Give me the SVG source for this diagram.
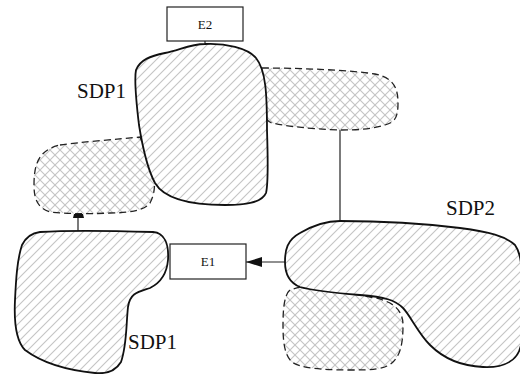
<svg xmlns="http://www.w3.org/2000/svg" width="520" height="374" viewBox="0 0 520 374">
<style>
.solid{fill:url(#hatch);stroke:#111;stroke-width:1.8}
.dash{fill:url(#cross);stroke:#222;stroke-width:1.3;stroke-dasharray:7 4}
.box{fill:#fff;stroke:#222;stroke-width:1.2}
.lbl{font-family:"Liberation Serif","Times New Roman",serif;fill:#111}
.conn{stroke:#222;stroke-width:1.2;fill:none}
.h{stroke:#c4c4c4;stroke-width:1.1}
</style>
<defs>
<pattern id="hatch" patternUnits="userSpaceOnUse" width="9" height="9">
<rect width="9" height="9" fill="#fff"/>
<line class="h" x1="-1" y1="10" x2="10" y2="-1"/>
<line class="h" x1="-1" y1="1" x2="1" y2="-1"/>
<line class="h" x1="8" y1="10" x2="10" y2="8"/>
</pattern>
<pattern id="cross" patternUnits="userSpaceOnUse" width="10" height="10">
<rect width="10" height="10" fill="#fff"/>
<line class="h" x1="-1" y1="11" x2="11" y2="-1"/>
<line class="h" x1="-1" y1="-1" x2="11" y2="11"/>
</pattern>
<marker id="arr" markerWidth="16" markerHeight="10" refX="16" refY="5" orient="auto" markerUnits="userSpaceOnUse">
<path d="M0,0 L16,5 L0,10 Z" fill="#111"/>
</marker>
</defs>

<g id="dash-left"><path class="dash" d="M60,145 C80,142 120,139 140,137 L150,160 C155,175 157,190 150,203 C145,210 130,213 110,213 C90,214 70,214 50,212 C38,208 34,200 34,185 C34,165 38,150 60,145 Z"/></g>
<g id="dash-top"><path class="dash" d="M262,68 C300,68 350,70 375,74 C395,78 398,90 398,103 C398,118 395,122 385,125 C370,130 350,130 340,130 C310,129 285,126 272,123 C262,120 258,100 258,85 C258,75 258,68 262,68 Z"/></g>
<g id="dash-bottom"><path class="dash" d="M300,287 C320,291 350,293 370,297 C390,300 403,308 403,325 C403,345 400,355 393,362 C385,370 370,370 350,370 C320,370 300,368 292,362 C284,355 283,340 283,325 C283,310 284,295 290,290 Z"/></g>

<g id="connectors">
<line class="conn" x1="205" y1="41" x2="205" y2="45"/>
<line class="conn" x1="340" y1="130" x2="340" y2="222"/>
<line class="conn" x1="286" y1="262" x2="246" y2="262" marker-end="url(#arr)"/>
<line class="conn" x1="78" y1="232" x2="78" y2="216"/>
<path d="M73,218 L74,214 L83,214 L84,218 Z" fill="#111"/>
</g>

<g id="sdp1-top">
<path class="solid" d="M205,44 C225,43 248,48 256,58 C266,70 267,95 267,130 C268,160 268,185 266,193 C262,203 245,205 225,205 C195,205 165,200 155,183 C148,170 143,150 139,125 C136,100 134,80 136,70 C140,60 150,56 165,53 C180,50 190,44 205,44 Z"/>
<text class="lbl" x="77" y="98" font-size="21" font-family="Liberation Serif, serif">SDP1</text>
</g>
<g id="sdp1-bottom">
<path class="solid" d="M40,232 C70,230 120,231 153,232 C165,233 169,245 168,260 C167,272 162,282 150,288 C138,292 130,293 128,307 C126,325 127,345 121,362 C115,372 105,374 95,373 C75,371 45,365 25,350 C15,340 14,320 15,300 C16,280 17,260 22,245 C26,237 32,233 40,232 Z"/>
<text class="lbl" x="128" y="349" font-size="21" font-family="Liberation Serif, serif">SDP1</text>
</g>
<g id="sdp2">
<path class="solid" d="M340,221 C380,221 420,223 460,228 C490,232 505,236 515,245 C522,255 522,270 521,290 L521,345 C518,360 505,368 483,367 C460,366 443,358 430,345 C418,333 410,315 403,308 C395,300 385,297 360,295 C335,293 315,291 300,287 C290,283 285,275 285,262 C285,250 287,240 300,233 C312,226 325,221 340,221 Z"/>
<text class="lbl" x="446" y="215" font-size="21" font-family="Liberation Serif, serif">SDP2</text>
</g>
<g id="e2">
<rect class="box" x="167" y="7" width="76" height="34"/>
<text class="lbl" x="205" y="29" font-size="13" text-anchor="middle" font-family="Liberation Serif, serif">E2</text>
</g>
<g id="e1">
<rect class="box" x="170" y="244" width="76" height="35"/>
<text class="lbl" x="208" y="266" font-size="13" text-anchor="middle" font-family="Liberation Serif, serif">E1</text>
</g>
</svg>
